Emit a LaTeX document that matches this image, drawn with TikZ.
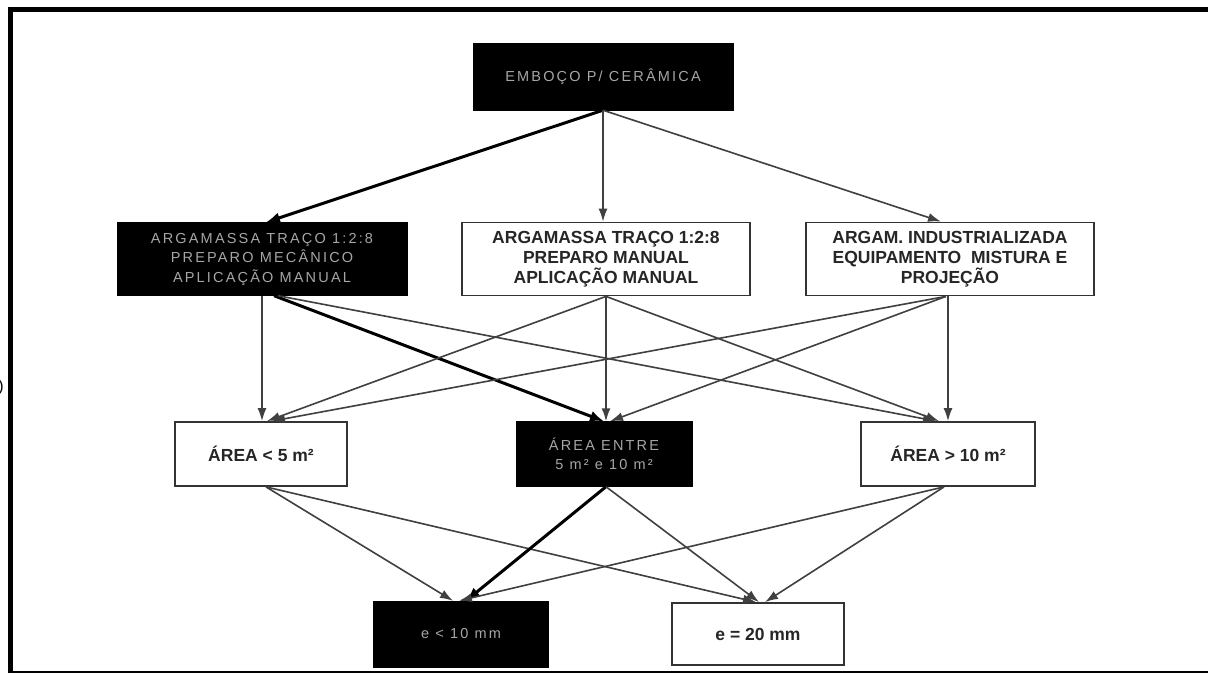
\documentclass[tikz,border=0pt]{standalone}
\usepackage{fontspec}
\setmainfont{Liberation Sans}
\newfontfamily\blkfont[LetterSpace=15]{Liberation Sans}
\usetikzlibrary{arrows.meta}
\begin{document}
\begin{tikzpicture}[x=1pt,y=-1pt,
  blk/.style={draw=black, fill=black, text=black!35, font=\blkfont\fontsize{14.5}{19.5}\selectfont, align=center, inner sep=0pt},
  wht/.style={draw=black!80, line width=1.8pt, fill=white, text=black!85, font=\bfseries\fontsize{17.5}{20}\selectfont, align=center, inner sep=0pt},
  arr/.style={draw=black!75, line width=1.6pt, -{Latex[length=13pt,width=9pt]}},
  barr/.style={draw=black, line width=3pt, -{Latex[length=14pt,width=11pt]}},
]
\useasboundingbox[fill=white] (0,0) rectangle (1208,674);
% frame
\draw[line width=5pt] (10,673) -- (10,10) -- (1212,10);
\draw[line width=2pt] (10,672) -- (1212,672);
\node[anchor=east, font=\fontsize{16}{16}\selectfont, inner sep=0pt] (paren) at (4,387) {)};

% nodes
\node[blk, minimum width=260pt, minimum height=67pt] (top) at (603,76.5) {EMBOÇO P/ CERÂMICA};
\node[blk, minimum width=290pt, minimum height=73pt] (a1) at (262,259) {ARGAMASSA TRAÇO 1:2:8\\PREPARO MECÂNICO\\APLICAÇÃO MANUAL};
\node[wht, minimum width=288pt, minimum height=73pt] (a2) at (606,259) {ARGAMASSA TRAÇO 1:2:8\\PREPARO MANUAL\\APLICAÇÃO MANUAL};
\node[wht, minimum width=288pt, minimum height=73pt] (a3) at (950,259) {ARGAM. INDUSTRIALIZADA\\EQUIPAMENTO\ \ MISTURA E\\PROJEÇÃO};
\node[wht, minimum width=172pt, minimum height=64pt] (b1) at (261,454) {ÁREA < 5 m²};
\node[blk, minimum width=176pt, minimum height=65pt] (b2) at (604,454) {ÁREA ENTRE\\5 m² e 10 m²};
\node[wht, minimum width=174pt, minimum height=64pt] (b3) at (948,454) {ÁREA > 10 m²};
\node[blk, minimum width=175pt, minimum height=66pt] (c1) at (461,634) {e < 10 mm};
\node[wht, minimum width=172pt, minimum height=62pt] (c2) at (758,634) {e = 20 mm};

% level 1
\draw[barr] (top.south) -- ([xshift=4pt]a1.north);
\draw[arr] (top.south) -- (top.south |- a2.north);
\draw[arr] (top.south) -- ([xshift=-9pt]a3.north);

% level 2
\draw[arr] (a1.south) -- (a1.south |- b1.north);
\draw[barr] ([xshift=12pt]a1.south) -- (b2.north);
\draw[arr] ([xshift=16pt]a1.south) -- ([xshift=-12pt]b3.north);
\draw[arr] (a2.south) -- ([xshift=6pt]b1.north);
\draw[arr] (a2.south) -- (a2.south |- b2.north);
\draw[arr] (a2.south) -- ([xshift=-9pt]b3.north);
\draw[arr] ([xshift=-4pt]a3.south) -- ([xshift=11pt]b1.north);
\draw[arr] ([xshift=-4pt]a3.south) -- ([xshift=6pt]b2.north);
\draw[arr] ([xshift=-2pt]a3.south) -- ([xshift=-2pt]a3.south |- b3.north);

% level 3
\draw[arr] ([xshift=5pt]b1.south) -- ([xshift=-8pt]c1.north);
\draw[arr] ([xshift=5pt]b1.south) -- ([xshift=-2pt]c2.north);
\draw[barr] ([xshift=2pt]b2.south) -- ([xshift=5pt]c1.north);
\draw[arr] ([xshift=2pt]b2.south) -- ([xshift=1pt]c2.north);
\draw[arr] ([xshift=-4pt]b3.south) -- ([xshift=-2pt]c1.north);
\draw[arr] ([xshift=-4pt]b3.south) -- ([xshift=7pt]c2.north);
\end{tikzpicture}
\end{document}
